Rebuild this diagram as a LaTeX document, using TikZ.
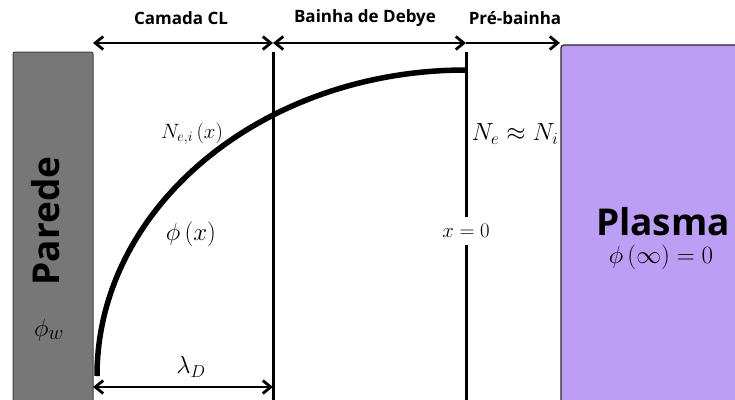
\documentclass[tikz,border=0pt]{standalone}
\usepackage{fontspec}
\setsansfont{Open Sans}
\usetikzlibrary{arrows.meta}
\definecolor{wallgray}{HTML}{777777}
\definecolor{plasmapurple}{HTML}{BD9EF5}
\tikzset{
  barb/.tip={Straight Barb[length=8pt,width=13pt]},
  dimarrow/.style={line width=2.8pt, barb-barb},
  rarrow/.style={line width=2.8pt, -barb},
  boundary/.style={line width=3pt},
  header/.style={font=\sffamily\bfseries\fontsize{17}{20}\selectfont},
  bigword/.style={font=\sffamily\bfseries\fontsize{37}{44}\selectfont, inner sep=0pt},
  mathlbl/.style={font=\fontsize{#1}{#1}\selectfont},
}
\begin{document}
\begin{tikzpicture}[x=1pt,y=-1pt]
\useasboundingbox (0,0) rectangle (735,399);
% wall and plasma
\node[draw=black!75, fill=wallgray, line width=1pt, rounded corners=2pt,
      minimum width=80pt, minimum height=360pt, inner sep=0pt] (wall) at (53,232) {};
\node[draw=black!85, fill=plasmapurple, line width=1.3pt, rounded corners=3pt,
      minimum width=186pt, minimum height=370pt, inner sep=0pt] (plasma) at (654,230) {};
% coordinates
\coordinate (w0) at (93,43);
\coordinate (c1) at (273,43);
\coordinate (c2) at (466,43);
\coordinate (p0) at (560,43);
\coordinate (l1top) at (273,52);
\coordinate (l1bot) at (273,405);
\coordinate (l2top) at (466,52);
\coordinate (l2bot) at (466,405);
\coordinate (lamA) at (93,387);
\coordinate (lamB) at (273,387);
\coordinate (cstart) at (97,376);
% header arrows
\draw[dimarrow] (w0) -- (c1);
\draw[dimarrow] (c1) -- (c2);
\draw[rarrow] (c2) -- (p0);
\node[header] (hcl) at (181,18) {Camada CL};
\node[header] (hdb) at (365,18) {Bainha de Debye};
\node[header] (hpb) at (515,18) {Pré-bainha};
% boundaries
\draw[boundary] (l1top) -- (l1bot);
\node[mathlbl=21, minimum height=28pt, inner sep=0pt] (xzero) at (466,231) {$x=0$};
\draw[boundary] (l2top) -- (xzero.north);
\draw[boundary] (xzero.south) -- (l2bot);
% potential curve
\draw[line width=5.5pt] (cstart) arc[start angle=180,end angle=90,x radius=369pt,y radius=306pt] coordinate (cend) -- (466,70);
% lambda_D
\draw[dimarrow] (lamA) -- (lamB);
\node[mathlbl=27] (lam) at (191,367) {$\lambda_D$};
% labels
\node[mathlbl=21] (nei) at (192,134) {$N_{e,i}\left(x\right)$};
\node[mathlbl=26] (phix) at (191,234) {$\phi\left(x\right)$};
\node[mathlbl=26] (neni) at (515,134) {$N_e\approx N_i$};
\node[mathlbl=28] (phiw) at (49,330) {$\phi_w$};
\node[bigword, rotate=90] (parede) at (46,221) {Parede};
\node[bigword, anchor=base] (plasmaword) at (663,235) {Plasma};
\node[mathlbl=26, inner sep=0pt] (phiinf) at (661,257) {$\phi\left(\infty\right)=0$};
\end{tikzpicture}
\end{document}
